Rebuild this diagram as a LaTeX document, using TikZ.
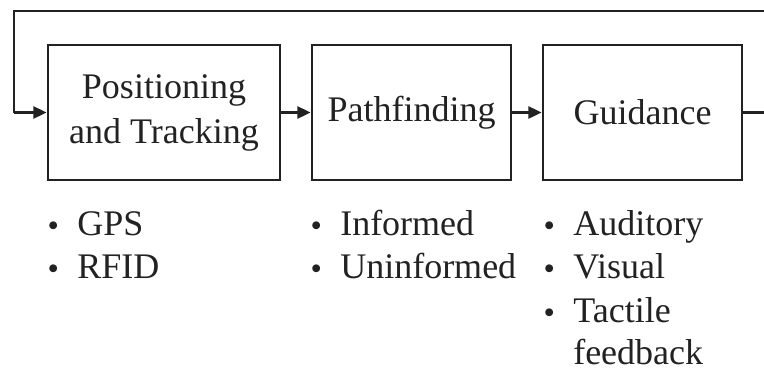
\documentclass[tikz,border=0pt]{standalone}
\usepackage{fontspec}
\setmainfont{Liberation Serif}
\usetikzlibrary{arrows.meta}
\definecolor{ink}{HTML}{222222}
\newcommand\itembul{\makebox[36pt]{\raisebox{-1pt}{\scalebox{0.9}{\textbullet}}}}
\newcommand\itemgap{\makebox[36pt]{}}
\begin{document}
\begin{tikzpicture}[x=0.75pt,y=-0.75pt,
  blk/.style={draw=ink,line width=2pt,rectangle,inner sep=0pt,minimum height=101.25pt,align=center,text=ink,font=\fontsize{27pt}{33.75pt}\selectfont},
  itm/.style={anchor=base west,inner sep=0pt,text=ink,font=\fontsize{27pt}{33.75pt}\selectfont},
  conn/.style={draw=ink,line width=2pt,-{Triangle[length=10pt,width=9pt]}},
  loopline/.style={draw=ink,line width=2pt}]
\clip (0,0) rectangle (764,371);
\fill[white] (0,0) rectangle (764,371);
\node[blk,minimum width=174pt] (p) at (164,112.5) {Positioning\\and Tracking};
\node[blk,minimum width=149.25pt] (f) at (411.5,112.5) {Pathfinding};
\node[blk,minimum width=149.25pt] (g) at (642.5,112.5) {Guidance};
\coordinate (r1) at (790,112.5);
\coordinate (r2) at (790,11);
\coordinate (l1) at (14,11);
\coordinate (l2) at (14,112.5);
\draw[conn] (p.east) -- (f.west);
\draw[conn] (f.east) -- (g.west);
\draw[loopline] (g.east) -- (r1) -- (r2) -- (l1) -- (l2);
\draw[conn] (l2) -- (p.west);
\node[itm] (a1) at (29,235) {\itembul GPS};
\node[itm] (a2) at (29,278.5) {\itembul RFID};
\node[itm] (b1) at (292,235) {\itembul Informed};
\node[itm] (b2) at (292,278.5) {\itembul Uninformed};
\node[itm] (c1) at (525,235) {\itembul Auditory};
\node[itm] (c2) at (525,278.5) {\itembul Visual};
\node[itm] (c3) at (525,322) {\itembul Tactile};
\node[itm] (c4) at (525,364) {\itemgap feedback};
\end{tikzpicture}
\end{document}
